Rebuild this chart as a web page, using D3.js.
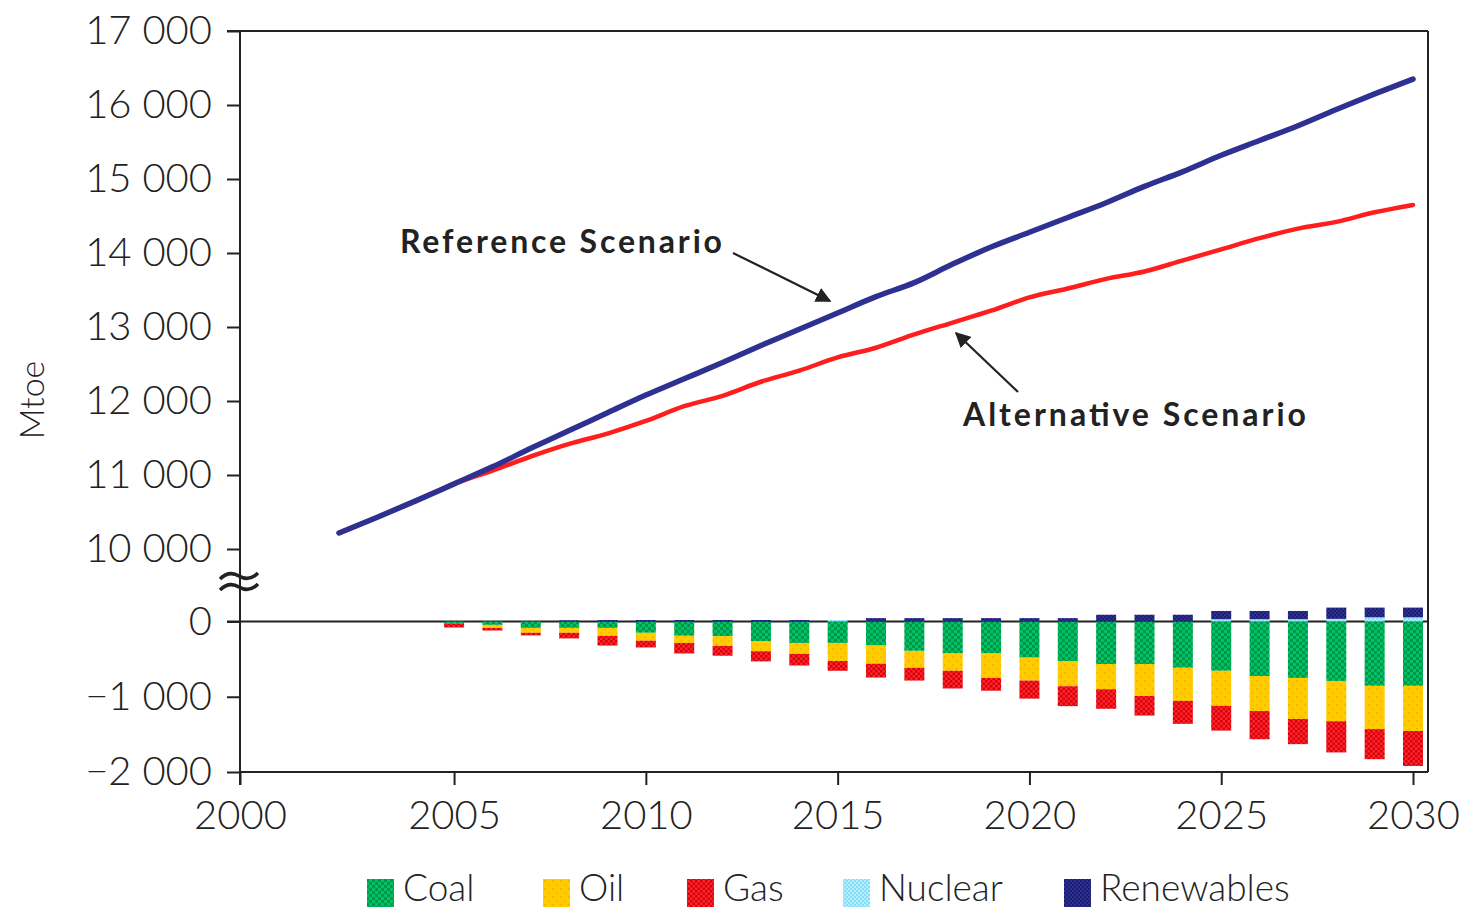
<!DOCTYPE html>
<html>
<head>
<meta charset="utf-8">
<script src="https://cdn.jsdelivr.net/npm/d3@7"></script>
<style>
  body { margin: 0; background: #fff; }
  text { font-family: "Lato", "DejaVu Sans", sans-serif; fill: #222; }
</style>
</head>
<body>
<svg id="chart" width="1468" height="909"></svg>
<script>
// line series (Mtoe)
const lineYears = d3.range(2002, 2031);
const referenceScenario = [10216, 10430, 10650, 10880, 11110, 11360, 11600, 11840, 12080, 12300,
  12520, 12750, 12970, 13190, 13410, 13600, 13850, 14080, 14280, 14480,
  14680, 14900, 15100, 15320, 15520, 15720, 15940, 16150, 16350];
const alternativeScenario = [10216, 10430, 10650, 10880, 11060, 11250, 11420, 11560, 11730, 11930,
  12070, 12260, 12410, 12590, 12720, 12900, 13060, 13220, 13400, 13520,
  13650, 13750, 13900, 14050, 14200, 14330, 14420, 14550, 14650];

// savings by fuel, alternative vs reference (Mtoe)
const barYears = d3.range(2005, 2031);
const coal = [-30, -45, -85, -85, -85, -150, -190, -195, -260, -285, -285, -320, -390,
  -425, -425, -480, -525, -565, -565, -615, -655, -725, -750, -790, -855, -855];
const oil = [0, -40, -65, -65, -105, -105, -95, -130, -135, -145, -240, -240, -225,
  -230, -325, -305, -335, -335, -425, -440, -465, -465, -545, -535, -575, -600];
const gas = [-50, -35, -35, -75, -130, -90, -140, -130, -135, -155, -130, -185, -170,
  -235, -170, -240, -265, -260, -260, -305, -330, -375, -335, -415, -400, -465];
const nuclear = [0, 0, 0, 0, 0, 0, 0, 0, 0, 0, 20, 0, 0,
  0, 0, 0, 0, 0, 0, 0, 30, 30, 30, 35, 55, 55];
const renewables = [0, 0, 0, 15, 20, 20, 20, 20, 20, 20, 0, 45, 45,
  45, 45, 45, 45, 90, 90, 90, 110, 110, 110, 150, 130, 130];

const fuels = ["Coal", "Oil", "Gas", "Nuclear", "Renewables"];
const fuelValues = [coal, oil, gas, nuclear, renewables];

const yTicks = [-2000, -1000, 0, 10000, 11000, 12000, 13000, 14000, 15000, 16000, 17000];
const xTicks = [2000, 2005, 2010, 2015, 2020, 2025, 2030];

const svg = d3.select("#chart");

// broken scales: the gap between 400 and 10 000 is squeezed
const x = d3.scaleLinear().domain([2000, 2002, 2030]).range([240, 339, 1413]);
const y = d3.scaleLinear().domain([-2000, 0, 400, 10000, 17000]).range([772, 621.5, 591.4, 549, 31]);
const plotL = 240, plotR = 1428, plotT = y(17000), plotB = y(-2000);

// hatch-like fills
const defs = svg.append("defs");
function pattern(id, base, dot, size, dotSize) {
  const p = defs.append("pattern").attr("id", id)
    .attr("width", size).attr("height", size).attr("patternUnits", "userSpaceOnUse");
  p.append("rect").attr("width", size).attr("height", size).attr("fill", base);
  p.append("rect").attr("width", dotSize).attr("height", dotSize).attr("fill", dot);
  p.append("rect").attr("x", size / 2).attr("y", size / 2)
    .attr("width", dotSize).attr("height", dotSize).attr("fill", dot);
}
pattern("p-coal", "#00964E", "#00C262", 6, 3);
pattern("p-oil", "#FFCC00", "#FFB400", 8, 2);
pattern("p-gas", "#FF2626", "#D40010", 5, 2.5);
pattern("p-nuclear", "#86DDFA", "#B4EEFF", 4, 2);
pattern("p-renewables", "#2E3192", "#1C1E70", 4, 2);
const fills = fuels.map(f => "url(#p-" + f.toLowerCase() + ")");

// frame
svg.append("line").attr("x1", plotL - 13).attr("x2", plotR).attr("y1", plotT).attr("y2", plotT)
  .attr("stroke", "#222").attr("stroke-width", 2);
svg.append("line").attr("x1", plotR).attr("x2", plotR).attr("y1", plotT).attr("y2", plotB)
  .attr("stroke", "#222").attr("stroke-width", 2);
svg.append("line").attr("x1", plotL).attr("x2", plotR).attr("y1", plotB).attr("y2", plotB)
  .attr("stroke", "#222").attr("stroke-width", 2);
svg.append("line").attr("x1", plotL).attr("x2", plotL).attr("y1", plotT).attr("y2", plotB + 13)
  .attr("stroke", "#222").attr("stroke-width", 2);

// zero line
svg.append("line").attr("x1", plotL - 13).attr("x2", plotR).attr("y1", y(0)).attr("y2", y(0))
  .attr("stroke", "#222").attr("stroke-width", 2);

// axes
const locale = d3.formatLocale({decimal: ".", thousands: " ", grouping: [3], currency: ["", ""], minus: "\u2212"});
const fmt = locale.format(",");

const yAxis = svg.append("g")
  .attr("transform", "translate(" + plotL + ",0)")
  .call(d3.axisLeft(y).tickValues(yTicks).tickSize(13).tickPadding(15).tickFormat(fmt));
yAxis.select(".domain").remove();
yAxis.selectAll("line").attr("stroke", "#222").attr("stroke-width", 2);
yAxis.selectAll("text").style("font-size", "40px").style("font-weight", 300).attr("fill", "#222");

const xAxis = svg.append("g")
  .attr("transform", "translate(0," + plotB + ")")
  .call(d3.axisBottom(x).tickValues(xTicks).tickSize(13).tickPadding(16).tickFormat(d3.format("d")));
xAxis.select(".domain").remove();
xAxis.selectAll("line").attr("stroke", "#222").attr("stroke-width", 2);
xAxis.selectAll("text").style("font-size", "40px").style("font-weight", 300).attr("fill", "#222");

// axis break mark
const brk = svg.append("g").attr("fill", "none").attr("stroke", "#222").attr("stroke-width", 3.5);
[577, 588].forEach(yy => {
  brk.append("path").attr("d", "M220," + (yy + 2) + " q9,-9 19,-3 t19,-3");
});

// y title
svg.append("text")
  .attr("transform", "translate(44,400) rotate(-90)")
  .attr("text-anchor", "middle")
  .style("font-size", "34px").style("font-weight", 300)
  .text("Mtoe");

// stacked bars: negatives stack downward, positives upward
const barW = 20;
const bars = svg.append("g");
barYears.forEach((yr, i) => {
  let neg = 0, pos = 0;
  fuelValues.forEach((vals, k) => {
    const v = vals[i];
    if (!v) return;
    let y0, y1;
    if (v < 0) { y0 = neg; y1 = neg + v; neg = y1; }
    else { y0 = pos; y1 = pos + v; pos = y1; }
    bars.append("rect")
      .attr("x", x(yr) - barW / 2)
      .attr("width", barW)
      .attr("y", y(Math.max(y0, y1)))
      .attr("height", Math.abs(y(y0) - y(y1)))
      .attr("fill", fills[k]);
  });
});

// scenario lines
const line = d3.line().x((d, i) => x(lineYears[i])).y(d => y(d)).curve(d3.curveMonotoneX);
svg.append("path").datum(alternativeScenario).attr("d", line)
  .attr("fill", "none").attr("stroke", "#FF1E1E").attr("stroke-width", 4.5).attr("stroke-linecap", "round");
svg.append("path").datum(referenceScenario).attr("d", line)
  .attr("fill", "none").attr("stroke", "#2E3192").attr("stroke-width", 5.5).attr("stroke-linecap", "round");

// annotations
defs.append("marker").attr("id", "arrow").attr("viewBox", "0 0 10 10")
  .attr("refX", 9).attr("refY", 5).attr("markerWidth", 7).attr("markerHeight", 7)
  .attr("markerUnits", "strokeWidth").attr("orient", "auto")
  .append("path").attr("d", "M0,0 L10,5 L0,10 z").attr("fill", "#222");

svg.append("text").attr("x", 400).attr("y", 253)
  .attr("textLength", 322).attr("lengthAdjust", "spacing")
  .style("font-size", "32px").style("font-weight", 700).text("Reference Scenario");
svg.append("line").attr("x1", 733).attr("y1", 253).attr("x2", 830).attr("y2", 301)
  .attr("stroke", "#222").attr("stroke-width", 2.2).attr("marker-end", "url(#arrow)");

svg.append("text").attr("x", 963).attr("y", 426)
  .attr("textLength", 343).attr("lengthAdjust", "spacing")
  .style("font-size", "32px").style("font-weight", 700).text("Alternative Scenario");
svg.append("line").attr("x1", 1018).attr("y1", 392).attr("x2", 956).attr("y2", 333)
  .attr("stroke", "#222").attr("stroke-width", 2.2).attr("marker-end", "url(#arrow)");

// legend
const legendX = [367, 543, 687, 843, 1064];
const legend = svg.append("g");
fuels.forEach((f, k) => {
  legend.append("rect").attr("x", legendX[k]).attr("y", 879).attr("width", 27).attr("height", 28)
    .attr("fill", fills[k]);
  legend.append("text").attr("x", legendX[k] + 36).attr("y", 901)
    .style("font-size", "37px").style("font-weight", 300).text(f);
});
</script>
</body>
</html>
